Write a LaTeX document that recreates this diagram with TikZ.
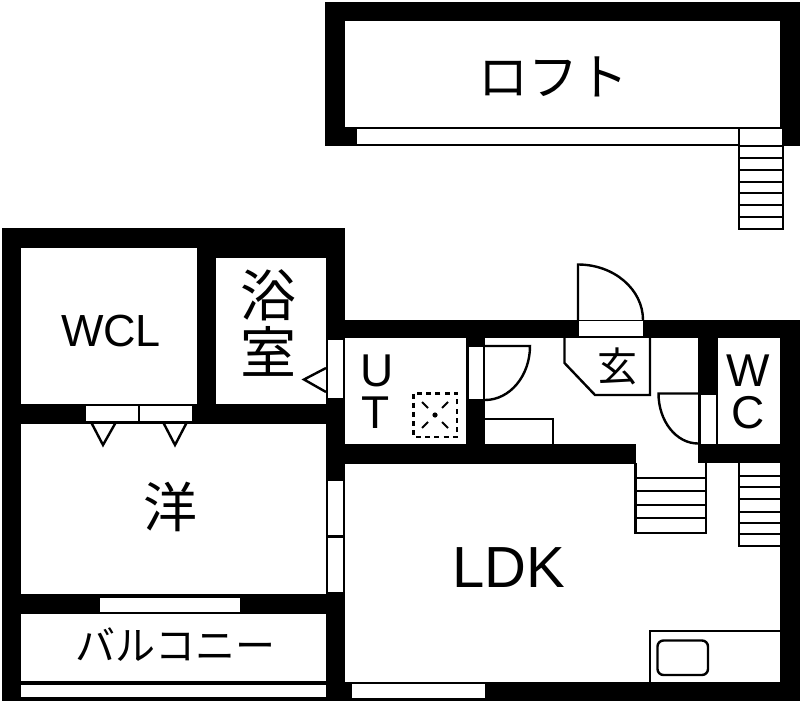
\documentclass[tikz,border=0pt]{standalone}
\usepackage{fontspec}
\setmainfont{Liberation Sans}
\newfontfamily\jpfont{Noto Sans CJK JP}
\tikzset{
  wall/.style={fill=black,draw=none},
  room/.style={fill=white,draw=none},
  ln/.style={draw=black,line width=2.4pt,fill=none},
  lbl/.style={inner sep=0pt,anchor=base,text=black},
  jp/.style={lbl,font=\jpfont\fontsize{#1}{#1}\selectfont},
  lat/.style={lbl,font=\fontsize{#1}{#1}\selectfont},
  drain/.style={draw=black,line width=2.4pt,dash pattern=on 5pt off 4.2pt}
}
\begin{document}
\begin{tikzpicture}[x=1pt,y=-1pt]
\useasboundingbox (0,0) rectangle (800,701);
\fill[white] (0,0) rectangle (800,701);
% loft
\fill[wall] (325,2) rectangle (800,146);
\fill[room] (345,21) rectangle (780,127);
\fill[room] (356.5,129) rectangle (738,143.5);
\fill[room] (740,129) rectangle (781.5,145);
\draw[ln] (739,146) rectangle (783,229);
\foreach \y in {158,170,182,193,205,217}{\draw[ln] (739,\y) -- (783,\y);}
% main walls
\fill[wall] (1.5,228) rectangle (345,701);
\fill[wall] (345,319.5) rectangle (800,338);
\fill[wall] (780,319.5) rectangle (800,701);
\fill[wall] (345,682) rectangle (800,701);
\fill[wall] (345,444) rectangle (635.5,463.5);
\fill[wall] (466,338) rectangle (485,444);
\fill[wall] (698,338) rectangle (718,444);
\fill[wall] (698,444) rectangle (780,463);
% left rooms
\fill[room] (21,248) rectangle (197,404);
\fill[room] (216,258) rectangle (326,404);
\fill[room] (21,424) rectangle (326,594);
\fill[room] (21,614) rectangle (326,681);
\fill[room] (21,685) rectangle (326,697);
% windows and doors in walls
\fill[room] (328,340) rectangle (343,398);
\fill[room] (86,406) rectangle (137.5,421);
\fill[room] (140,406) rectangle (192,421);
\fill[room] (100,598) rectangle (240,612);
\fill[room] (328,481) rectangle (343,535);
\fill[room] (328,538) rectangle (343,592);
\fill[room] (469,347) rectangle (483,399);
\fill[room] (579,321) rectangle (642.5,336);
\fill[room] (701,395) rectangle (716,444);
\fill[room] (352,684) rectangle (485,698);
% door swings
\draw[ln] (326,368) -- (304,379.5) -- (326,392);
\draw[ln] (91,422) -- (103,445) -- (116,422);
\draw[ln] (163,422) -- (175,445) -- (187,422);
\draw[ln] (578,320) -- (578,264.5) arc[start angle=-90,end angle=0,x radius=65,y radius=55.5];
\draw[ln] (485,346) -- (530,346) arc[start angle=0,end angle=90,x radius=45,y radius=54];
\draw[ln] (698,393.5) -- (658.5,393.5) arc[start angle=180,end angle=90,x radius=39.5,y radius=50];
% genkan and shelf
\draw[ln] (564.5,338) -- (564.5,363) -- (595,395) -- (650,395) -- (650,338);
\draw[ln] (485,419) -- (553,419) -- (553,444);
% stairs
\draw[ln] (635.5,463) -- (635.5,533) -- (706,533) -- (706,463);
\foreach \y in {478,491,505,518}{\draw[ln] (635.5,\y) -- (706,\y);}
\draw[ln] (739,463) -- (739,546) -- (780,546);
\foreach \y in {476,487,499,512,523,534}{\draw[ln] (739,\y) -- (780,\y);}
% kitchen
\draw[ln] (650,682) -- (650,631) -- (780,631);
\draw[ln,rounded corners=6pt] (657.5,640.5) rectangle (708,675);
% drain
\draw[drain] (413.5,393.5) rectangle (457,437);
\foreach \a/\b/\c/\d in {422/402/428/408,448/402/442/408,422/428/428/422,448/428/442/422}{\draw[line width=2pt] (\a,\b) -- (\c,\d);}
\fill (435,415) circle (2.6pt);
% labels
\node[jp=50] (loft) at (553,95) {ロフト};
\node[lat=45] (wcl) at (111,346) {WCL};
\node[jp=56] (bath1) at (268,316) {浴};
\node[jp=56] (bath2) at (268,373) {室};
\node[jp=54] (west) at (170,527.5) {洋};
\node[jp=40] (balc) at (175.5,660) {バルコニー};
\node[lat=46] (u) at (377,386) {U};
\node[lat=46] (t) at (376,428) {T};
\node[jp=40] (gen) at (617,381) {玄};
\node[lat=46] (w) at (748,386) {W};
\node[lat=46] (c) at (748,428) {C};
\node[lat=58] (ldk) at (509,587) {LDK};
\end{tikzpicture}
\end{document}
